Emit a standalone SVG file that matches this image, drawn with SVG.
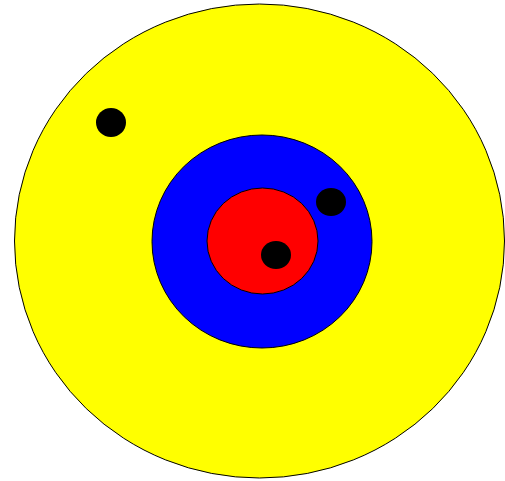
<svg xmlns="http://www.w3.org/2000/svg" width="505" height="481" viewBox="0 0 505 481">
<style>
.ring{stroke:#000;stroke-width:1}
.dot{fill:#000}
</style>
<rect width="505" height="481" fill="#fff"/>
<g id="yellow"><ellipse class="ring" cx="259.5" cy="241" rx="245" ry="237" fill="#ff0"/></g>
<g id="blue"><ellipse class="ring" cx="262" cy="241.5" rx="110" ry="106.5" fill="#00f"/></g>
<g id="red"><ellipse class="ring" cx="262.5" cy="241" rx="55.5" ry="53" fill="#f00"/></g>
<g id="dot1"><ellipse class="dot" cx="111" cy="122.5" rx="15" ry="14.5"/></g>
<g id="dot2"><ellipse class="dot" cx="331" cy="202" rx="15" ry="14"/></g>
<g id="dot3"><ellipse class="dot" cx="276" cy="255" rx="15" ry="14"/></g>
<g id="connectors"/>
</svg>
